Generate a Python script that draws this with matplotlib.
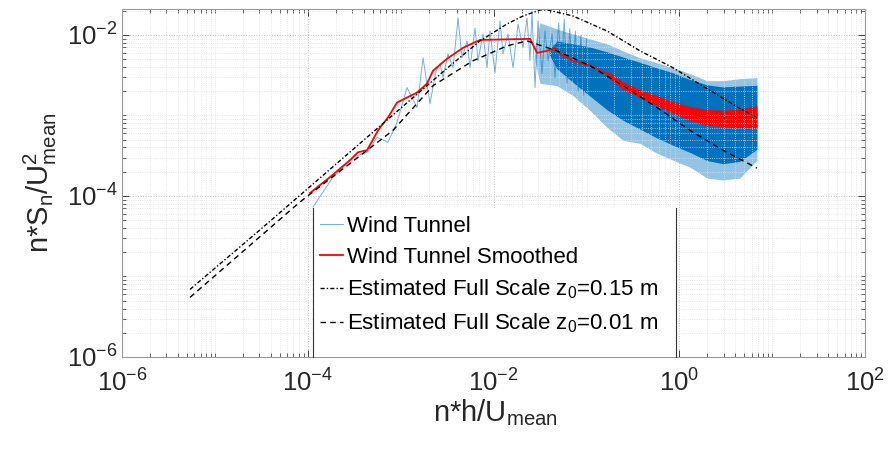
"""Wind tunnel spectrum vs estimated full scale spectra (log-log)"""

import numpy as np
import matplotlib.pyplot as plt
from matplotlib.patches import Rectangle
from matplotlib.ticker import LogLocator, NullFormatter

# values are stored as log10 exponents

# Estimated Full Scale z0=0.15 m
fs15_x = [-5.268, -4.514, -3.190, -2.469, -2.146, -1.856, -1.684, -1.501, -1.414,
          -1.145, -0.779, -0.424, -0.069, 0.297, 0.652, 0.835]
fs15_y = [-5.160, -4.420, -3.099, -2.383, -2.074, -1.864, -1.765, -1.691, -1.691,
          -1.765, -1.951, -2.198, -2.407, -2.667, -2.914, -3.025]

# Estimated Full Scale z0=0.01 m
fs01_x = [-5.268, -4.084, -3.083, -2.652, -2.222, -1.856, -1.640, -1.318, -0.962,
          -0.607, -0.241, 0.114, 0.469, 0.835]
fs01_y = [-5.259, -4.074, -3.185, -2.630, -2.321, -2.136, -2.074, -2.198, -2.383,
          -2.630, -2.901, -3.185, -3.432, -3.654]

# Wind Tunnel Smoothed
sm_x = [-3.976, -3.761, -3.546, -3.460, -3.363, -3.244, -3.137, -3.040, -2.825, -2.717,
        -2.652, -2.502, -2.329, -2.146, -1.608, -1.533, -1.425, -1.339, -1.285, -1.145,
        -0.962, -0.779, -0.607, -0.424, -0.241, -0.069, 0.114, 0.297, 0.469, 0.652, 0.835]
sm_y = [-3.963, -3.765, -3.556, -3.457, -3.432, -3.185, -3.025, -2.840, -2.716, -2.605,
        -2.444, -2.296, -2.160, -2.062, -2.049, -2.222, -2.198, -2.160, -2.235, -2.321,
        -2.383, -2.481, -2.630, -2.728, -2.815, -2.901, -2.975, -3.025, -3.037, -3.037, -3.000]
# scatter of the smoothed curve at high frequency
smb_x = [-0.779, -0.607, -0.424, -0.241, -0.069, 0.114, 0.297, 0.469, 0.652, 0.835]
smb_hi = [-2.450, -2.585, -2.680, -2.755, -2.830, -2.890, -2.925, -2.935, -2.920, -2.880]
smb_lo = [-2.515, -2.675, -2.775, -2.875, -2.972, -3.060, -3.122, -3.137, -3.150, -3.155]

# Wind Tunnel raw spectrum, low and middle frequencies
wt_x = [-3.944, -3.729, -3.513, -3.363, -3.255, -3.137, -3.040, -2.932, -2.825, -2.760,
        -2.685, -2.620, -2.577, -2.545, -2.491, -2.437, -2.383, -2.340, -2.286, -2.254,
        -2.200, -2.168, -2.114, -2.071, -2.039, -1.985, -1.931, -1.899, -1.845, -1.791,
        -1.737, -1.684, -1.640, -1.608, -1.587, -1.554, -1.522, -1.479, -1.447, -1.414,
        -1.371, -1.339, -1.300, -1.270, -1.240, -1.210, -1.180, -1.150, -1.120, -1.090,
        -1.060, -1.030, -1.000]
wt_y = [-4.136, -3.765, -3.519, -3.457, -3.272, -3.333, -3.086, -2.654, -2.901, -2.284,
        -2.852, -2.444, -2.358, -2.531, -2.235, -2.407, -1.790, -2.284, -2.074, -2.407,
        -1.914, -2.321, -1.988, -2.407, -1.951, -2.469, -1.827, -2.235, -1.988, -2.407,
        -1.864, -2.160, -1.790, -2.321, -1.704, -2.654, -1.827, -2.481, -1.951, -2.321,
        -1.988, -2.531, -1.850, -2.450, -1.800, -2.600, -1.920, -2.550, -1.950, -2.700,
        -2.000, -2.750, -2.050]
# Wind Tunnel raw spectrum, dense high frequency band
band_x = [-1.560, -1.501, -1.318, -1.145, -0.962, -0.779, -0.607, -0.424, -0.241, -0.069,
          0.114, 0.297, 0.469, 0.652, 0.835]
band_hi = [-2.150, -1.850, -1.926, -1.988, -2.049, -2.111, -2.198, -2.284, -2.346, -2.407,
           -2.481, -2.568, -2.568, -2.543, -2.531]
band_lo = [-2.300, -2.600, -2.630, -2.753, -2.938, -3.148, -3.309, -3.346, -3.469, -3.556,
           -3.642, -3.778, -3.802, -3.778, -3.556]
core_x = [-1.400, -1.318, -1.145, -0.962, -0.779, -0.607, -0.424, -0.241, -0.069, 0.114,
          0.297, 0.469, 0.652, 0.835]
core_hi = [-2.180, -2.074, -2.110, -2.150, -2.210, -2.275, -2.340, -2.410, -2.470, -2.555,
           -2.620, -2.645, -2.635, -2.625]
core_lo = [-2.250, -2.420, -2.590, -2.760, -2.930, -3.060, -3.170, -3.280, -3.370, -3.460,
           -3.560, -3.600, -3.570, -3.420]


def p10(a):
    return np.power(10.0, np.asarray(a))


def main():
    plt.rcParams['font.family'] = ['Liberation Sans', 'DejaVu Sans']
    plt.rcParams['mathtext.fontset'] = 'custom'
    plt.rcParams['mathtext.rm'] = 'Liberation Sans'
    plt.rcParams['mathtext.it'] = 'Liberation Sans:italic'

    fig = plt.figure(figsize=(8.91, 4.54), dpi=100)
    ax = fig.add_axes([0.137, 0.2137, 0.834, 0.7665])
    blue = '#0072BD'

    ax.fill_between(p10(band_x), p10(band_lo), p10(band_hi), color=blue, alpha=0.42, lw=0)
    ax.fill_between(p10(core_x), p10(core_lo), p10(core_hi), color=blue, lw=0)
    ax.plot(p10(wt_x), p10(wt_y), color=blue, lw=0.7, alpha=0.55, label='Wind Tunnel')
    ax.fill_between(p10(smb_x), p10(smb_lo), p10(smb_hi), color='red', lw=0)
    ax.plot(p10(sm_x), p10(sm_y), color='red', lw=1.3, label='Wind Tunnel Smoothed')
    ax.plot(p10(fs15_x), p10(fs15_y), color='black', lw=1, ls=(0, (3, 1.5, 1, 1.5)),
            label='Estimated Full Scale z$_0$=0.15 m')
    ax.plot(p10(fs01_x), p10(fs01_y), color='black', lw=1, ls=(0, (4, 3)),
            label='Estimated Full Scale z$_0$=0.01 m')

    ax.set_xscale('log')
    ax.set_yscale('log')
    ax.set_xlim(1e-6, 1e2)
    ax.set_ylim(1e-6, 2.1e-2)
    ax.xaxis.set_major_locator(LogLocator(base=100.0, numticks=10))
    ax.yaxis.set_major_locator(LogLocator(base=100.0, numticks=10))
    for axis in (ax.xaxis, ax.yaxis):
        axis.set_minor_locator(LogLocator(base=10.0, subs=np.arange(1, 10), numticks=100))
        axis.set_minor_formatter(NullFormatter())
    ax.tick_params(which='both', direction='in', top=True, right=True, colors='0.15',
                   labelsize=18.5)
    ax.tick_params(which='major', length=5, width=0.6)
    ax.tick_params(which='minor', length=3, width=0.5)
    ax.tick_params(axis='x', which='major', pad=9)
    ax.tick_params(axis='y', which='major', pad=3)
    ax.grid(True, which='major', ls=':', color='0.75', lw=0.7)
    ax.grid(True, which='minor', ls=':', color='0.88', lw=0.6)
    for s in ax.spines.values():
        s.set_color('0.6')
        s.set_linewidth(0.8)

    ax.set_xlabel(r'n*h/U$_\mathrm{mean}$', fontsize=21, color='0.15')
    ax.set_ylabel(r'n*S$_\mathrm{n}$/U$^\mathrm{2}_\mathrm{mean}$', fontsize=21, color='0.15')
    ax.xaxis.set_label_coords(0.502, -0.115)
    ax.yaxis.set_label_coords(-0.085, 0.5)

    # legend box: white panel with only its side edges visible
    x0, x1, y1 = 0.257, 0.746, 0.428
    ax.add_patch(Rectangle((x0, 0), x1 - x0, y1, transform=ax.transAxes,
                           facecolor='white', edgecolor='none', zorder=4))
    for xv in (x0, x1):
        ax.plot([xv, xv], [0, y1], transform=ax.transAxes, color='0.2', lw=0.8,
                zorder=6, clip_on=False)
    ax.legend(loc='upper left', bbox_to_anchor=(x0 - 0.001, y1), frameon=False,
              fontsize=16, handlelength=1.05, handletextpad=0.15, borderaxespad=0,
              borderpad=0.35, labelspacing=0.45)

    fig.savefig('out.png', dpi=100)


main()
